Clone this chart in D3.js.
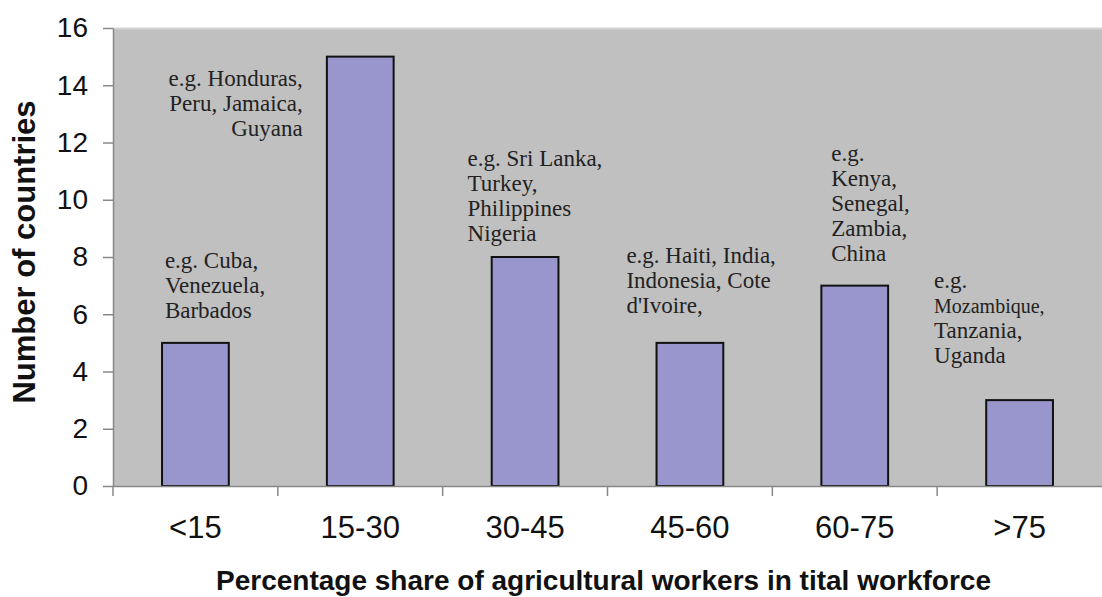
<!DOCTYPE html>
<html>
<head>
<meta charset="utf-8">
<script src="https://cdn.jsdelivr.net/npm/d3@7"></script>
<style>
  body { margin: 0; background: #fff; }
  svg { display: block; }
</style>
</head>
<body>
<svg id="chart" width="1102" height="597"></svg>
<script>
// data
const categories = ["<15", "15-30", "30-45", "45-60", "60-75", ">75"];
const counts = [5, 15, 8, 5, 7, 3];
const yTicks = [0, 2, 4, 6, 8, 10, 12, 14, 16];
// example countries per band, one entry per text line
const notes = [
  ["e.g. Cuba,", "Venezuela,", "Barbados"],
  ["e.g. Honduras,", "Peru, Jamaica,", "Guyana"],
  ["e.g. Sri Lanka,", "Turkey,", "Philippines", "Nigeria"],
  ["e.g. Haiti, India,", "Indonesia, Cote", "d'Ivoire,"],
  ["e.g.", "Kenya,", "Senegal,", "Zambia,", "China"],
  ["e.g.", "Mozambique,", "Tanzania,", "Uganda"]
];
// where each note sits: x offset from band centre (px), first line in data units, anchor
const noteX = [-30.5, -57.5, -57.5, -63.5, -23.5, -85.5];
const noteTop = [7.9, 14.25, 11.46, 8.07, 11.63, 7.2];
const noteAnchor = ["start", "end", "start", "start", "start", "start"];

const width = 1102, height = 597;
const margin = { top: 28, right: 0, bottom: 111, left: 113 };
const innerW = width - margin.left - margin.right;
const innerH = height - margin.top - margin.bottom;

const svg = d3.select("#chart");
const g = svg.append("g").attr("transform", `translate(${margin.left},${margin.top})`);

const x = d3.scaleBand().domain(categories).range([0, innerW]).padding(0);
const y = d3.scaleLinear().domain([0, 16]).range([innerH, 0]);

// plot background
g.append("rect")
  .attr("x", 0).attr("y", 0)
  .attr("width", innerW).attr("height", innerH)
  .attr("fill", "#c0c0c0");
g.append("line")
  .attr("x1", 0).attr("x2", innerW).attr("y1", 0.5).attr("y2", 0.5)
  .attr("stroke", "#d4d4d4").attr("stroke-width", 2);

// bars
const barW = x.bandwidth() * 0.405;
g.selectAll("rect.bar")
  .data(counts)
  .join("rect")
  .attr("class", "bar")
  .attr("x", (d, i) => x(categories[i]) + x.bandwidth() / 2 - barW / 2)
  .attr("y", d => y(d))
  .attr("width", barW)
  .attr("height", d => y(0) - y(d))
  .attr("fill", "#9896cc")
  .attr("stroke", "#111")
  .attr("stroke-width", 2);

// y axis
const yAxis = g.append("g")
  .call(d3.axisLeft(y).tickValues(yTicks).tickSize(10).tickPadding(15).tickSizeOuter(0));
yAxis.select(".domain").attr("stroke", "#888").attr("stroke-width", 1.5);
yAxis.selectAll(".tick line").attr("stroke", "#888").attr("stroke-width", 1.5);
yAxis.selectAll(".tick text")
  .attr("font-family", "Arial, 'Liberation Sans', sans-serif")
  .attr("font-size", 28)
  .attr("fill", "#111");

// x axis, ticks on category boundaries
const xAxis = g.append("g").attr("transform", `translate(0,${innerH})`)
  .call(d3.axisBottom(x).tickSize(0).tickPadding(30));
xAxis.select(".domain").attr("stroke", "#888").attr("stroke-width", 1.5);
xAxis.selectAll(".tick text")
  .attr("font-family", "Arial, 'Liberation Sans', sans-serif")
  .attr("font-size", 31)
  .attr("fill", "#111");
g.append("g").selectAll("line")
  .data(categories)
  .join("line")
  .attr("x1", d => x(d)).attr("x2", d => x(d))
  .attr("y1", innerH).attr("y2", innerH + 10)
  .attr("stroke", "#888").attr("stroke-width", 1.5);

// country notes
const noteG = g.append("g")
  .attr("font-family", "'Liberation Serif', 'Times New Roman', serif")
  .attr("font-size", 23)
  .attr("fill", "#222");
notes.forEach((lines, i) => {
  const cx = x(categories[i]) + x.bandwidth() / 2 + noteX[i];
  const t = noteG.append("text")
    .attr("x", cx)
    .attr("y", y(noteTop[i]))
    .attr("text-anchor", noteAnchor[i]);
  lines.forEach((ln, j) => {
    t.append("tspan")
      .attr("x", cx)
      .attr("dy", j === 0 ? "0.35em" : 25)
      .attr("font-size", ln === "Mozambique," ? 20 : null)
      .text(ln);
  });
});

// axis titles
svg.append("text")
  .attr("x", margin.left + innerW / 2 - 4)
  .attr("y", 590)
  .attr("text-anchor", "middle")
  .attr("font-family", "Arial, 'Liberation Sans', sans-serif")
  .attr("font-weight", "bold")
  .attr("font-size", 28)
  .attr("fill", "#111")
  .text("Percentage share of agricultural workers in tital workforce");

svg.append("text")
  .attr("transform", `translate(35,252) rotate(-90)`)
  .attr("text-anchor", "middle")
  .attr("font-family", "Arial, 'Liberation Sans', sans-serif")
  .attr("font-weight", "bold")
  .attr("font-size", 31)
  .attr("fill", "#111")
  .text("Number of countries");
</script>
</body>
</html>
